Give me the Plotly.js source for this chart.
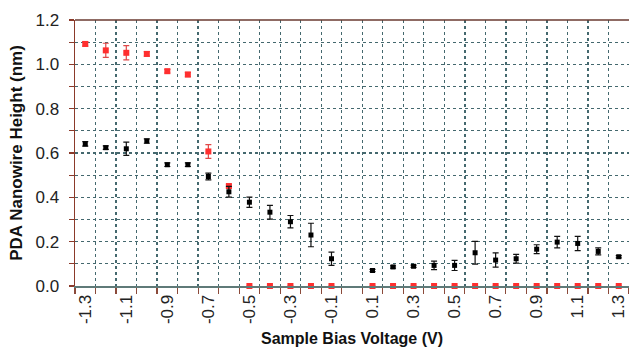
<!DOCTYPE html>
<html>
<head>
<meta charset="utf-8">
<script src="https://cdn.plot.ly/plotly-3.0.1.min.js"></script>
<style>html,body{margin:0;padding:0;background:#fff;}#chart{width:629px;height:349px;}</style>
</head>
<body>
<div id="chart"></div>
<script>
// Sample bias voltages (V)
const blackVoltages = [-1.3,-1.2,-1.1,-1.0,-0.9,-0.8,-0.7,-0.6,-0.5,-0.4,-0.3,-0.2,-0.1,
                       0.1,0.2,0.3,0.4,0.5,0.6,0.7,0.8,0.9,1.0,1.1,1.2,1.3];
const blackHeights = [0.641,0.624,0.619,0.654,0.547,0.547,0.494,0.425,0.378,0.333,0.290,0.230,0.123,
                      0.070,0.086,0.089,0.093,0.093,0.150,0.117,0.123,0.166,0.198,0.192,0.156,0.132];
const blackErrors  = [0.010,0.008,0.030,0.010,0.008,0.008,0.015,0.024,0.023,0.031,0.028,0.053,0.030,
                      0.005,0.005,0.005,0.019,0.023,0.051,0.032,0.020,0.020,0.026,0.032,0.016,0.005];

const redVoltages = [-1.3,-1.2,-1.1,-1.0,-0.9,-0.8,-0.7,-0.6,-0.5,-0.4,-0.3,-0.2,-0.1,
                     0.1,0.2,0.3,0.4,0.5,0.6,0.7,0.8,0.9,1.0,1.1,1.2,1.3];
const redHeights = [1.092,1.063,1.052,1.047,0.969,0.954,0.607,0.451,0,0,0,0,0,
                    0,0,0,0,0,0,0,0,0,0,0,0,0];
const redErrors  = [0.010,0.032,0.032,0.010,0.008,0.010,0.031,0.008,0,0,0,0,0,
                    0,0,0,0,0,0,0,0,0,0,0,0,0];

const xTickVals = [-1.3,-1.1,-0.9,-0.7,-0.5,-0.3,-0.1,0.1,0.3,0.5,0.7,0.9,1.1,1.3];
const xTickText = ['-1.3','-1.1','-0.9','-0.7','-0.5','-0.3','-0.1','0.1','0.3','0.5','0.7','0.9','1.1','1.3'];

const font = 'Liberation Sans, Arial, sans-serif';
const gridColor = '#44686e';

const traces = [
  {
    x: redVoltages, y: redHeights, type: 'scatter', mode: 'markers', cliponaxis: false,
    marker: {symbol: 'square', size: 6, color: '#ff2f2f', line: {width: 0}},
    error_y: {type: 'data', array: redErrors, visible: true, color: '#e04848', thickness: 1.2, width: 3},
    showlegend: false, hoverinfo: 'x+y'
  },
  {
    x: blackVoltages, y: blackHeights, type: 'scatter', mode: 'markers', cliponaxis: false,
    marker: {symbol: 'square', size: 5, color: '#000000', line: {width: 0}},
    error_y: {type: 'data', array: blackErrors, visible: true, color: '#111111', thickness: 1.2, width: 3},
    showlegend: false, hoverinfo: 'x+y'
  }
];

const layout = {
  width: 629, height: 349,
  margin: {l: 75, r: 0, t: 20, b: 63},
  paper_bgcolor: '#ffffff', plot_bgcolor: '#ffffff',
  font: {family: font, color: '#222'},
  xaxis: {
    range: [-1.35, 1.35],
    tickmode: 'array', tickvals: xTickVals, ticktext: xTickText,
    tickangle: -90, tickfont: {size: 17, family: font, color: '#222'},
    showgrid: false, zeroline: false,
    showline: true, linecolor: '#5f7a78', linewidth: 2,
    ticks: '',
    minor: {tick0: -1.25, dtick: 0.1, showgrid: true, gridcolor: gridColor, gridwidth: 1.3, griddash: 'dot',
            ticks: 'outside', ticklen: 6, tickcolor: '#8b4a3a', tickwidth: 1.2},
    title: {text: 'Sample Bias Voltage (V)', font: {size: 16, family: font, color: '#111', weight: 'bold'}, standoff: 10}
  },
  yaxis: {
    range: [0, 1.2], dtick: 0.2, tick0: 0, tickformat: '.1f',
    tickfont: {size: 17, family: font, color: '#222'},
    showgrid: true, gridcolor: gridColor, gridwidth: 1.3, griddash: 'dot',
    zeroline: false,
    showline: true, linecolor: '#8b3a2a', linewidth: 1.5,
    ticks: 'outside', ticklen: 5, tickcolor: '#8b3a2a', tickwidth: 1.2,
    ticklabelstandoff: 6,
    minor: {dtick: 0.1, tick0: 0, showgrid: true, gridcolor: gridColor, gridwidth: 1.3, griddash: 'dot',
            ticks: 'outside', ticklen: 5, tickcolor: '#8b3a2a', tickwidth: 1.2},
    title: {text: 'PDA Nanowire Height (nm)', font: {size: 17, family: font, color: '#111', weight: 'bold'}, standoff: 8}
  },
  shapes: [
    {type: 'line', xref: 'paper', yref: 'paper', x0: 0, x1: 1, y0: 1, y1: 1,
     line: {color: '#6a3a30', width: 1.5}}
  ]
};

Plotly.newPlot('chart', traces, layout, {displayModeBar: false, staticPlot: true});
</script>
</body>
</html>
